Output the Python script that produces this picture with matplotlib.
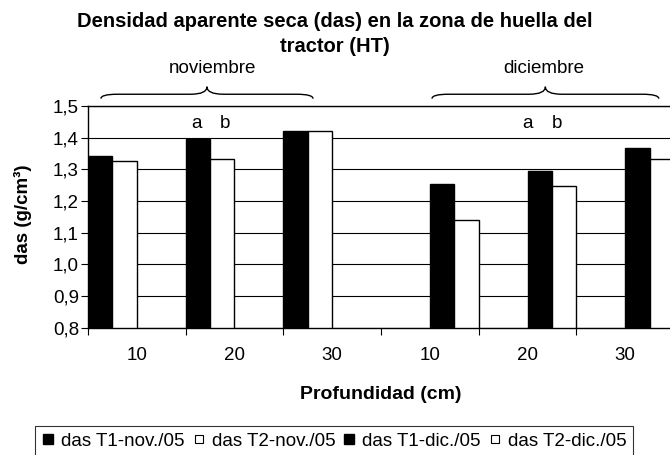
import numpy as np
import matplotlib
matplotlib.use('Agg')
import matplotlib.pyplot as plt
from matplotlib.path import Path
from matplotlib.patches import PathPatch
from matplotlib.lines import Line2D
from matplotlib.ticker import FuncFormatter, FixedLocator

plt.rcParams['font.family'] = ['Liberation Sans', 'DejaVu Sans']

# datos
profundidad = ['10', '20', '30', '10', '20', '30']
t1_nov = [1.344, 1.396, 1.423, np.nan, np.nan, np.nan]
t2_nov = [1.328, 1.333, 1.421, np.nan, np.nan, np.nan]
t1_dic = [np.nan, np.nan, np.nan, 1.255, 1.296, 1.368]
t2_dic = [np.nan, np.nan, np.nan, 1.141, 1.248, 1.333]
series = ['das T1-nov./05', 'das T2-nov./05', 'das T1-dic./05', 'das T2-dic./05']
meses = ['noviembre', 'diciembre']
letras = ['a', 'b']

FS = 13.5


def llave(ax, x0, x1, y0, dy_mid, dy_tip, d=0.028):
    xm = (x0 + x1) / 2
    ym = y0 + dy_mid
    yt = y0 + dy_tip
    verts = [(x0, y0), (x0, ym), (x0 + d, ym),
             (xm - d, ym), (xm, ym), (xm, yt),
             (xm, ym), (xm + d, ym),
             (x1 - d, ym), (x1, ym), (x1, y0)]
    codes = [Path.MOVETO, Path.CURVE3, Path.CURVE3,
             Path.LINETO, Path.CURVE3, Path.CURVE3,
             Path.CURVE3, Path.CURVE3,
             Path.LINETO, Path.CURVE3, Path.CURVE3]
    p = PathPatch(Path(verts, codes), facecolor='none', edgecolor='black',
                  lw=1.0, transform=ax.transAxes, clip_on=False)
    ax.add_patch(p)


fig = plt.figure(figsize=(6.7, 4.55), dpi=100)
ax = fig.add_axes([88 / 670, 1 - 327.7 / 455, 586 / 670, 221.5 / 455])

x = np.arange(len(profundidad))
w = 0.25
colores = ['black', 'white', 'black', 'white']
offs = [-1.5 * w, -0.5 * w, 0.5 * w, 1.5 * w]
for vals, c, off in zip([t1_nov, t2_nov, t1_dic, t2_dic], colores, offs):
    v = np.array(vals)
    m = ~np.isnan(v)
    ax.bar(x[m] + off, v[m], w, color=c, edgecolor='black', lw=1.0, zorder=2)

ax.set_xlim(-0.5, len(profundidad) - 0.5)
ax.set_ylim(0.8, 1.5)
ax.set_yticks(np.arange(0.8, 1.51, 0.1))
ax.yaxis.set_major_formatter(FuncFormatter(lambda v, p: f'{v:.1f}'.replace('.', ',')))
ax.yaxis.grid(True, color='black', lw=0.8)
ax.set_axisbelow(True)

ax.xaxis.set_major_locator(FixedLocator(np.arange(-0.5, len(profundidad), 1.0)))
ax.xaxis.set_major_formatter(FuncFormatter(lambda v, p: ''))
ax.xaxis.set_minor_locator(FixedLocator(x))
ax.set_xticklabels(profundidad, minor=True)
ax.tick_params(axis='x', which='major', direction='out', length=5, width=0.8)
ax.tick_params(axis='x', which='minor', length=0, pad=14, labelsize=FS)
ax.tick_params(axis='y', direction='out', length=5, width=0.8, pad=1.5, labelsize=FS)

for s in ['top', 'left', 'bottom']:
    ax.spines[s].set_linewidth(1.0)
ax.spines['right'].set_visible(False)

ax.set_ylabel('das (g/cm³)', fontsize=13.5, fontweight='bold')
ax.yaxis.set_label_coords(-0.095, 0.51)
ax.set_xlabel('Profundidad (cm)', fontsize=14, fontweight='bold')
ax.xaxis.set_label_coords(0.5, -0.265)

fig.text(0.5, 1 - 34 / 455,
         'Densidad aparente seca (das) en la zona de huella del\ntractor (HT)',
         ha='center', va='center', fontsize=14.5, fontweight='bold', linespacing=1.4)

# llaves y meses
llave(ax, 0.022, 0.384, 1.034, 0.020, 0.054)
llave(ax, 0.587, 0.974, 1.034, 0.020, 0.054)
ax.text(0.213, 1.17, meses[0], transform=ax.transAxes, ha='center', va='center', fontsize=FS)
ax.text(0.778, 1.17, meses[1], transform=ax.transAxes, ha='center', va='center', fontsize=FS)

for xa, l in zip([0.616, 0.902], letras):
    ax.text(xa, 1.445, l, ha='center', va='center', fontsize=FS)
for xa, l in zip([4.004, 4.300], letras):
    ax.text(xa, 1.445, l, ha='center', va='center', fontsize=FS)

handles = []
for c in colores:
    if c == 'black':
        handles.append(Line2D([], [], marker='s', ls='', markerfacecolor='black',
                              markeredgecolor='black', markersize=7))
    else:
        handles.append(Line2D([], [], marker='s', ls='', markerfacecolor='white',
                              markeredgecolor='black', markersize=6, markeredgewidth=0.8))
leg = fig.legend(handles, series, loc='center', bbox_to_anchor=(334 / 670, 1 - 441 / 455),
                 ncol=4, frameon=True, fancybox=False, edgecolor='black',
                 handlelength=0.7, handletextpad=0.35, columnspacing=0.4,
                 borderpad=0.35, borderaxespad=0, fontsize=FS)
leg.get_frame().set_linewidth(0.8)

fig.savefig('out.png', dpi=100)
